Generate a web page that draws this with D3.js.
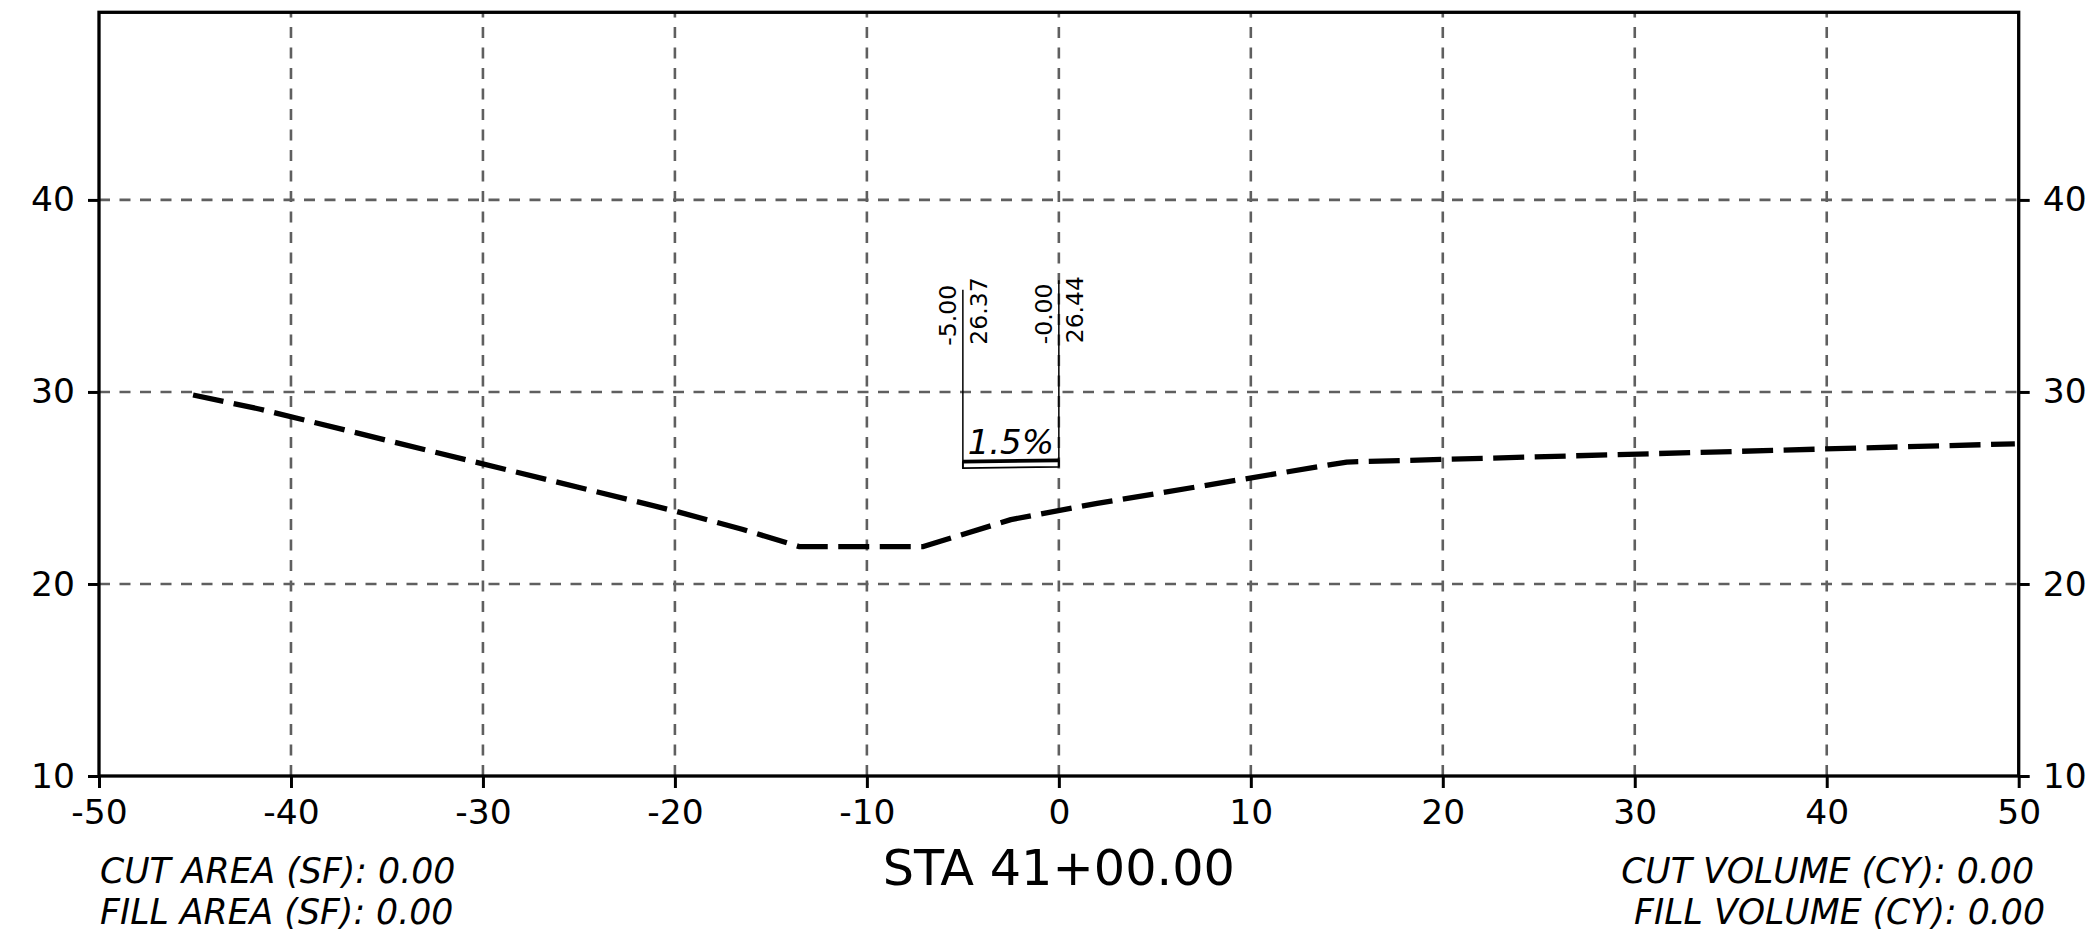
<!DOCTYPE html>
<html>
<head>
<meta charset="utf-8">
<script src="https://cdn.jsdelivr.net/npm/d3@7"></script>
<style>
  html, body { margin: 0; padding: 0; background: #ffffff; }
  svg { display: block; }
  text { font-family: "DejaVu Sans", sans-serif; fill: #000; }
</style>
</head>
<body>
<svg id="chart" width="2091" height="942"></svg>
<script>
// ---- data ----
const xTicks = [-50, -40, -30, -20, -10, 0, 10, 20, 30, 40, 50];
const yTicks = [10, 20, 30, 40];
const xDomain = [-50, 50];
const yDomain = [10, 49.77];

// existing ground profile (offset, elevation)
const groundOffset = [-45.1, -41.6, -20, -16.5, -13.5, -7.1, -2.5, 2, 15, 49.8];
const groundElev   = [29.84, 29.1, 23.8, 22.85, 21.94, 21.94, 23.35, 24.2, 26.35, 27.3];

// design section labels
const designOffset = [-5, 0];
const designElev = [26.37, 26.44];
const offsetLabels = ["-5.00", "-0.00"];
const elevLabels = ["26.37", "26.44"];
const slopeLabel = "1.5%";
const pavementDepth = 0.34;

const titleText = "STA 41+00.00";
const leftFooter = ["CUT AREA (SF): 0.00", "FILL AREA (SF): 0.00"];
const rightFooter = ["CUT VOLUME (CY): 0.00", "FILL VOLUME (CY): 0.00"];

// ---- layout ----
const L = 99, R = 2018.7, T = 12.3, B = 776;
const svg = d3.select("#chart");
const x = d3.scaleLinear().domain(xDomain).range([L, R]);
const y = d3.scaleLinear().domain(yDomain).range([B, T]);

const gridColor = "#5f5f5f";
const grid = svg.append("g");
grid.selectAll("line.v").data(xTicks.filter(d => d > xDomain[0] && d < xDomain[1]))
  .join("line").attr("class", "v")
  .attr("x1", d => x(d)).attr("x2", d => x(d))
  .attr("y1", B).attr("y2", T)
  .attr("stroke", gridColor).attr("stroke-width", 2.6).attr("stroke-dasharray", "11,9.5");
grid.selectAll("line.h").data(yTicks.filter(d => d > yDomain[0]))
  .join("line").attr("class", "h")
  .attr("x1", L).attr("x2", R)
  .attr("y1", d => y(d)).attr("y2", d => y(d))
  .attr("stroke", gridColor).attr("stroke-width", 2.6).attr("stroke-dasharray", "11,9.5");

// ground line
const ground = groundOffset.map((o, i) => [o, groundElev[i]]);
svg.append("path")
  .attr("d", d3.line().x(d => x(d[0])).y(d => y(d[1]))(ground))
  .attr("fill", "none").attr("stroke", "#000").attr("stroke-width", 5.3)
  .attr("stroke-dasharray", "31,10.5").attr("stroke-linejoin", "round");

// design section: pavement outline
const pave = [
  [designOffset[0], designElev[0]],
  [designOffset[1], designElev[1]],
  [designOffset[1], designElev[1] - pavementDepth],
  [designOffset[0], designElev[0] - pavementDepth]
];
svg.append("path")
  .attr("d", d3.line().x(d => x(d[0])).y(d => y(d[1]))(pave) + "Z")
  .attr("fill", "none").attr("stroke", "#000").attr("stroke-width", 1.8).attr("stroke-linejoin", "round");
svg.append("path")
  .attr("d", d3.line().x(d => x(d[0])).y(d => y(d[1]))(pave.slice(0, 2)))
  .attr("fill", "none").attr("stroke", "#000").attr("stroke-width", 3.8);

// leader lines and rotated labels
const leaderTop = [172, 180];
designOffset.forEach((o, i) => {
  const px = x(o), py = y(designElev[i]);
  svg.append("line")
    .attr("x1", px).attr("x2", px)
    .attr("y1", y(designElev[i] - pavementDepth)).attr("y2", py - leaderTop[i])
    .attr("stroke", "#000").attr("stroke-width", 1.5);
  svg.append("text")
    .attr("transform", `translate(${px - 6.6},${py - 116}) rotate(-90)`)
    .attr("font-size", 23.5).text(offsetLabels[i]);
  svg.append("text")
    .attr("transform", `translate(${px + 24},${py - 117}) rotate(-90)`)
    .attr("font-size", 23.5).text(elevLabels[i]);
});
svg.append("text")
  .attr("x", x((designOffset[0] + designOffset[1]) / 2))
  .attr("y", y((designElev[0] + designElev[1]) / 2) - 7)
  .attr("text-anchor", "middle").attr("font-style", "italic").attr("font-size", 34)
  .text(slopeLabel);

// axes
const fmt = d => String(d);
const styleAxis = g => {
  g.select(".domain").remove();
  g.selectAll(".tick line").attr("stroke", "#000").attr("stroke-width", 3);
  g.selectAll(".tick text").attr("font-family", "DejaVu Sans").attr("font-size", 34.5).attr("fill", "#000");
};
svg.append("g").attr("transform", `translate(${L},0)`)
  .call(d3.axisLeft(y).tickValues(yTicks).tickFormat(fmt).tickSize(11).tickPadding(13)).call(styleAxis);
svg.append("g").attr("transform", `translate(${R},0)`)
  .call(d3.axisRight(y).tickValues(yTicks).tickFormat(fmt).tickSize(11).tickPadding(13)).call(styleAxis);
svg.append("g").attr("transform", `translate(0,${B})`)
  .call(d3.axisBottom(x).tickValues(xTicks).tickFormat(fmt).tickSize(12).tickPadding(12)).call(styleAxis);

// frame
svg.append("rect").attr("x", L).attr("y", T).attr("width", R - L).attr("height", B - T)
  .attr("fill", "none").attr("stroke", "#000").attr("stroke-width", 3.3);

// title & footers
svg.append("text").attr("x", x(0)).attr("y", 885).attr("text-anchor", "middle")
  .attr("font-size", 49.3).text(titleText);
leftFooter.forEach((t, i) => {
  svg.append("text").attr("x", 100).attr("y", 882.7 + i * 41.6)
    .attr("font-style", "italic").attr("font-size", 34.7).text(t);
});
const rightX = [2034, 2045];
rightFooter.forEach((t, i) => {
  svg.append("text").attr("x", rightX[i]).attr("y", 882.7 + i * 41.6).attr("text-anchor", "end")
    .attr("font-style", "italic").attr("font-size", 34.7).text(t);
});
</script>
</body>
</html>
